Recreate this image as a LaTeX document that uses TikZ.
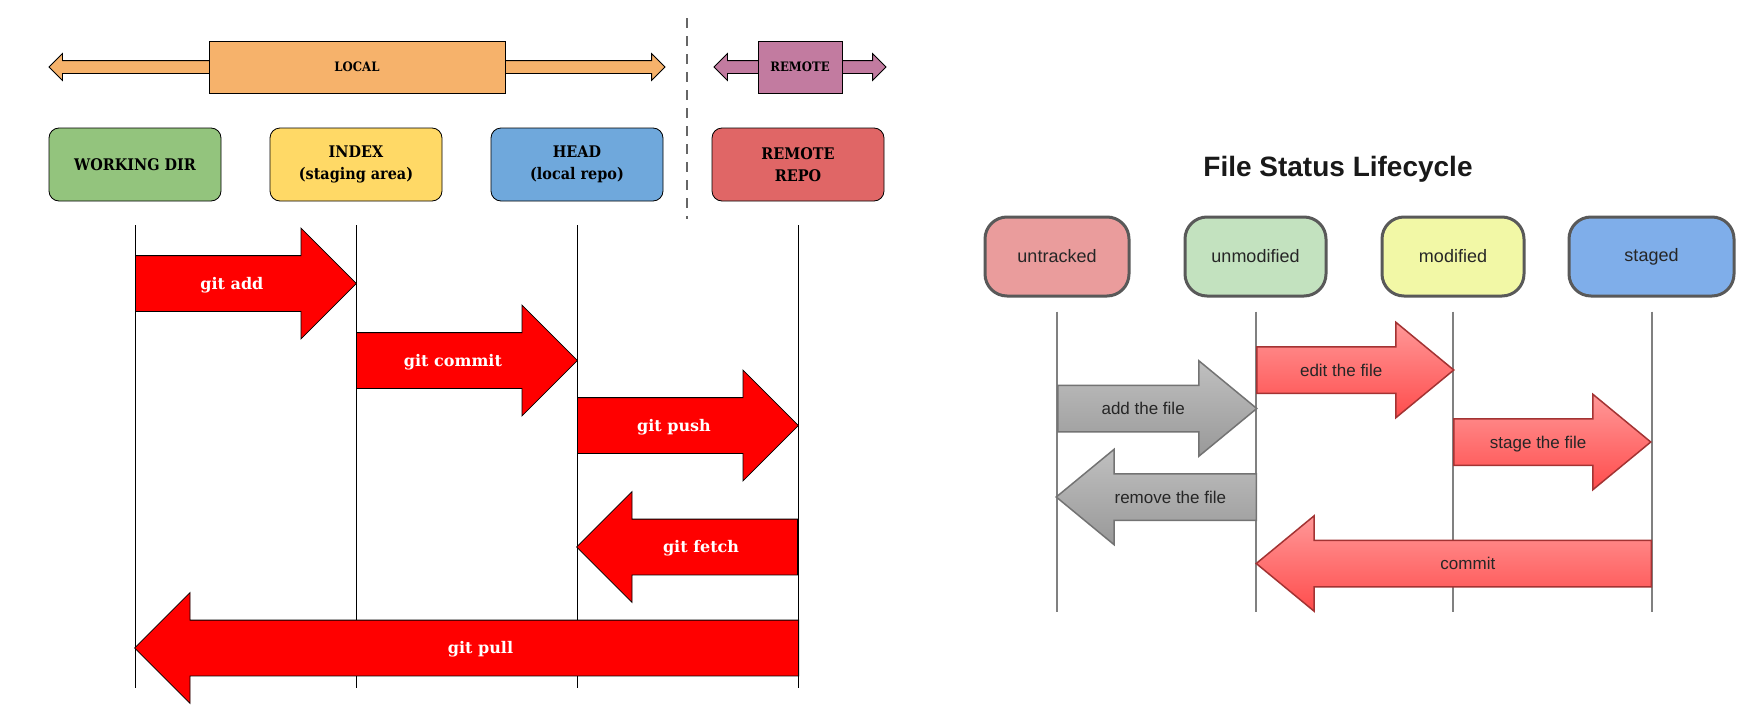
\documentclass[tikz,border=0pt]{standalone}
\usepackage{fontspec}
\setmainfont{DejaVu Serif}
\newfontfamily\boxfont{DejaVu Serif}[FakeStretch=0.9]
\newfontfamily\lifefont{Liberation Sans}
\usepackage{tikz}
\usetikzlibrary{shapes.arrows,positioning}

\definecolor{localorange}{HTML}{F6B26B}
\definecolor{remotepurple}{HTML}{C27BA0}
\definecolor{wdgreen}{HTML}{93C47D}
\definecolor{indexyellow}{HTML}{FFD966}
\definecolor{headblue}{HTML}{6FA8DC}
\definecolor{repored}{HTML}{E06666}
\definecolor{untrackedc}{HTML}{EA9C9C}
\definecolor{unmodifiedc}{HTML}{C3E2BF}
\definecolor{modifiedc}{HTML}{F2F8A6}
\definecolor{stagedc}{HTML}{7FAEEA}

\begin{document}
\begin{tikzpicture}[x=1pt, y=-1pt,
  area/.style={draw=black, line width=0.8pt, rounded corners=10pt, minimum width=172pt,
    minimum height=73pt, align=center, font=\boxfont\bfseries\fontsize{16}{22}\selectfont},
  span/.style={double arrow, draw=black, line width=0.8pt, double arrow tip angle=90,
    double arrow head extend=7pt, text height=6pt, text depth=6pt, inner sep=0pt},
  spanbox/.style={draw=black, line width=0.8pt, minimum height=52pt, inner sep=0pt,
    font=\boxfont\bfseries\fontsize{13}{15}\selectfont},
  gitarrow/.style={single arrow, fill=red, draw=black, line width=0.8pt,
    single arrow tip angle=90, single arrow head extend=27.5pt, text height=33pt, text depth=22pt,
    inner sep=0pt, text=white, font=\fontsize{16}{18}\selectfont\bfseries},
  lifebox/.style={draw=black!65, line width=3pt, rounded corners=22pt, minimum height=79pt,
    font=\lifefont\fontsize{18}{21}\selectfont, text=black!85},
  lifearrow/.style={single arrow, line width=1.5pt, single arrow tip angle=79,
    single arrow head extend=24.5pt, text height=28.5pt, text depth=16.5pt, inner sep=0pt,
    font=\lifefont\fontsize{17}{20}\selectfont, text=black!85},
  redarrow/.style={lifearrow, draw=red!55!black!80, top color=red!45!white!90, bottom color=red!70!white},
  grayarrow/.style={lifearrow, draw=black!55, top color=black!25, bottom color=black!40}
]
  \path[fill=white, use as bounding box] (0,0) rectangle (1762,720);

  % git side
  \node[span, fill=localorange, minimum height=616pt] (localspan) at (357,67) {};
  \node[spanbox, fill=localorange, minimum width=296pt] (local) at (357,67) {LOCAL};
  \node[span, fill=remotepurple, minimum height=172pt] (remotespan) at (800,67) {};
  \node[spanbox, fill=remotepurple, minimum width=84pt] (remote) at (800,67) {REMOTE};
  \draw[black!60, line width=2.5pt, dash pattern=on 10pt off 8pt] (687,18) -- (687,219);

  \node[area, fill=wdgreen] (wd) at (135,164.5) {WORKING DIR};
  \node[area, fill=indexyellow] (index) at (356,164.5) {INDEX\\(staging area)};
  \node[area, fill=headblue] (head) at (577,164.5) {HEAD\\(local repo)};
  \node[area, fill=repored] (repo) at (798,164.5) {REMOTE\\REPO};

  \foreach \n in {wd,index,head,repo}
    \draw[line width=0.8pt] (\n.south) ++(0,24) -- ++(0,463);

  \node[gitarrow, minimum height=221pt, anchor=tail] (add) at (135,283.5) {git add};
  \node[gitarrow, minimum height=221pt, anchor=tail] (commit) at (356,360.5) {git commit};
  \node[gitarrow, minimum height=221pt, anchor=tail] (push) at (577,425.5) {git push};
  \node[gitarrow, minimum height=221pt, anchor=tail, shape border rotate=180] (fetch) at (798,547) {git fetch};
  \node[gitarrow, minimum height=664pt, anchor=tail, shape border rotate=180] (pull) at (799,648) {git pull};

  % lifecycle side
  \node[font=\lifefont\bfseries\fontsize{28}{30}\selectfont, text=black!90] (title) at (1338,169) {File Status Lifecycle};

  \node[lifebox, fill=untrackedc, minimum width=144pt] (untracked) at (1057,256.5) {untracked};
  \node[lifebox, fill=unmodifiedc, minimum width=141pt] (unmodified) at (1255.5,256.5) {unmodified};
  \node[lifebox, fill=modifiedc, minimum width=142pt] (modified) at (1453,256.5) {modified};
  \node[lifebox, fill=stagedc, minimum width=165pt] (staged) at (1651.5,256.5) {staged};

  \foreach \n in {untracked,unmodified,modified,staged}
    \draw[black!50, line width=2pt] (\n.south) ++(0,14) -- ++(0,300);

  \node[grayarrow, minimum height=199pt, anchor=tail] (addfile) at (1057,408.5) {add the file};
  \node[redarrow, minimum height=197pt, anchor=tail] (editfile) at (1256,370) {edit the file};
  \node[redarrow, minimum height=197pt, anchor=tail] (stagefile) at (1453,442) {stage the file};
  \node[grayarrow, minimum height=200pt, anchor=tail, shape border rotate=180] (removefile) at (1257,497) {remove the file};
  \node[redarrow, minimum height=395pt, anchor=tail, shape border rotate=180] (commitfile) at (1652,563.5) {commit};
\end{tikzpicture}
\end{document}
